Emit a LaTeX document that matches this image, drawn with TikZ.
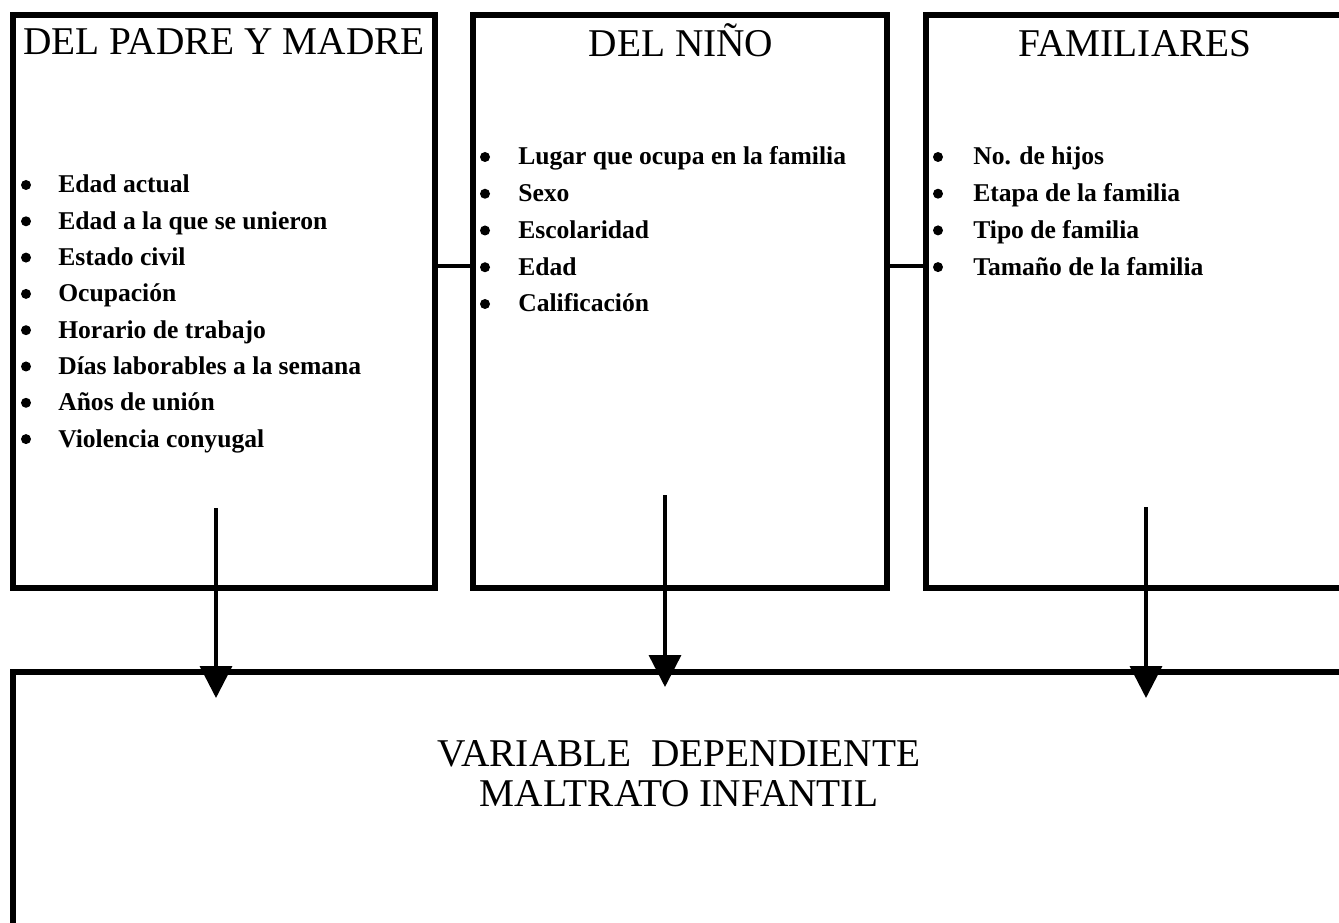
\documentclass[tikz,border=0pt]{standalone}
\usepackage{fontspec}
\setmainfont{Liberation Serif}[BoldFont = {Liberation Serif Bold}]
\usetikzlibrary{arrows.meta,positioning}

\begin{document}
\begin{tikzpicture}
[x=0.75pt,y=-0.75pt]
\tikzset{
	caja/.style = {draw, line width = 5pt, minimum height = 429.75pt, inner sep = 0},
	titulo/.style = {anchor = base, inner sep = 0, font = \fontsize{29.5}{31}\selectfont},
	punto/.style = {circle, fill, inner sep = 0, minimum size = 7.5pt},
	elem/.style = {anchor = base west, inner sep = 0, font = \fontsize{19.2}{21}\selectfont\bfseries},
	enlace/.style = {line width = 2.5pt},
	flecha/.style = {line width = 2.6pt, -{Triangle[width = 24pt, length = 24pt]}}
}
\useasboundingbox (0,0) rectangle (1339,923);
\clip (0,0) rectangle (1339,923);

% cajas
\node (padre) [caja, minimum width = 316.5pt] at (224,301.5) {};
\node (nino) [caja, minimum width = 310.5pt] at (680,301.5) {};
\node (fam) [caja, minimum width = 314.25pt] at (1135.5,301.5) {};
\node (dep) [caja, minimum width = 999pt, minimum height = 216pt] at (679,816) {};

% titulos
\node (tpadre) [titulo] at (224,55) {DEL PADRE Y MADRE};
\node (tnino) [titulo] at (681,57) {DEL NIÑO};
\node (tfam) [titulo] at (1135,57) {FAMILIARES};
\node (tdep1) [titulo] at (679,766) {VARIABLE~~DEPENDIENTE};
\node (tdep2) [titulo] at (679,806) {MALTRATO INFANTIL};

% variables
\foreach \t [count=\i] in {Edad actual, Edad a la que se unieron, Estado civil, Ocupación,
	Horario de trabajo, Días laborables a la semana, Años de unión, Violencia conyugal}{
	\node (pp-\i) [punto] at (26,{185+36.3*(\i-1)}) {};
	\node (ep-\i) [elem] at (58,{193+36.3*(\i-1)}) {\t};
}
\foreach \t [count=\i] in {Lugar que ocupa en la familia, Sexo, Escolaridad, Edad, Calificación}{
	\node (pn-\i) [punto] at (485,{157+36.75*(\i-1)}) {};
	\node (en-\i) [elem] at (518,{165+36.75*(\i-1)}) {\t};
}
\foreach \t [count=\i] in {No. de hijos, Etapa de la familia, Tipo de familia, Tamaño de la familia}{
	\node (pf-\i) [punto] at (938,{157+36.7*(\i-1)}) {};
	\node (ef-\i) [elem] at (973,{165+36.7*(\i-1)}) {\t};
}

% enlaces
\draw [enlace] ([yshift=26.6pt]padre.east) -- ([yshift=26.6pt]nino.west);
\draw [enlace] ([yshift=26.6pt]nino.east) -- ([yshift=26.6pt]fam.west);

% flechas
\coordinate (a1) at (216,508);
\coordinate (b1) at (216,698);
\coordinate (a2) at (665,495);
\coordinate (b2) at (665,687);
\coordinate (a3) at (1146,507);
\coordinate (b3) at (1146,698);
\draw [flecha] (a1) -- (b1);
\draw [flecha] (a2) -- (b2);
\draw [flecha] (a3) -- (b3);
\end{tikzpicture}
\end{document}
